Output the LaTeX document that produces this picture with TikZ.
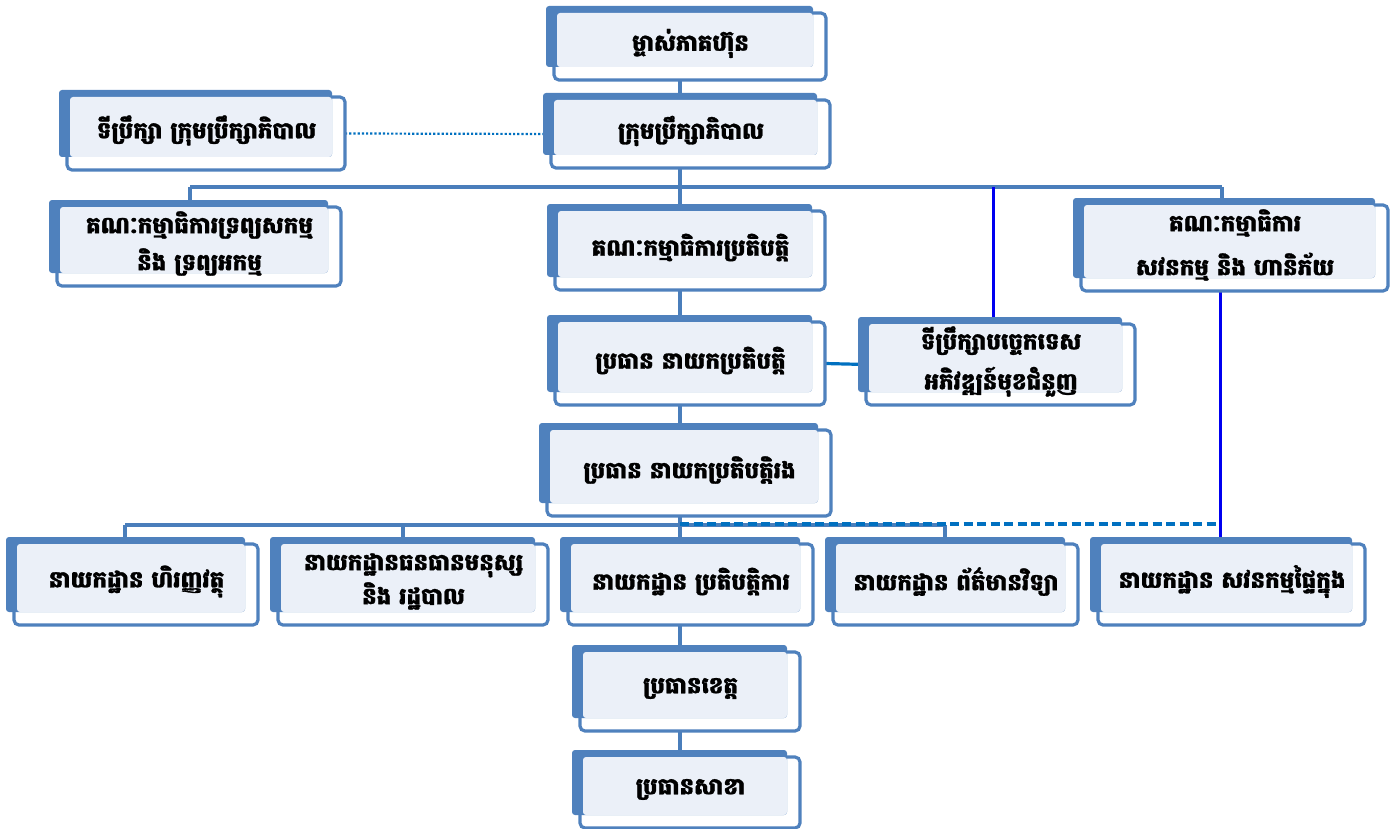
\documentclass[tikz,border=0pt]{standalone}
\usepackage{fontspec}
\newfontfamily\khmer[Script=Khmer, BoldFeatures={FakeBold=1.2}]{Battambang}
\usetikzlibrary{calc}
\pgfdeclarelayer{background}
\pgfsetlayers{background,main}
\definecolor{boxblue}{HTML}{4F81BD}
\definecolor{lightfill}{HTML}{EBF0F8}
\definecolor{connblue}{HTML}{4A7EBB}
\definecolor{linkblue}{HTML}{0070C0}
\definecolor{pureblue}{HTML}{0000F0}
\tikzset{
  outbox/.style={draw=boxblue, line width=3.2pt, fill=white, rounded corners=5pt, inner sep=0pt, outer sep=0pt, anchor=north west},
  txt/.style={font=\khmer\bfseries\fontsize{23}{40}\selectfont, align=center, text=black, inner sep=0pt},
  conn/.style={draw=connblue, line width=3.5pt},
  dotconn/.style={draw=linkblue, line width=2.2pt, dotted},
  linkconn/.style={draw=linkblue, line width=3.2pt},
  blueconn/.style={draw=pureblue, line width=3pt},
  dashconn/.style={draw=linkblue, line width=3.5pt, dash pattern=on 9pt off 4.5pt},
}
% #1 name, #2 x0, #3 y0, #4 x1, #5 y1 (blue back rectangle), #6 text
\newcommand\orgbox[6]{%
  \node[outbox, minimum width={#4-#2+5}, minimum height={#5-#3+6}] (#1) at (#2+8,#3+7) {};
  \fill[boxblue, rounded corners=3pt] (#2,#3) rectangle (#4,#5);
  \fill[lightfill, rounded corners=3pt] (#2+11,#3+7) rectangle (#4,#5);
  \node[txt] (#1-t) at ({(#2+#4)/2+11},{(#3+#5)/2+7}) {#6};
}
\begin{document}
\begin{tikzpicture}[x=1pt,y=-1pt]
\useasboundingbox (0,0) rectangle (1396,829);
\orgbox{A}{546}{6}{813}{67}{ម្ចាស់ភាគហ៊ុន}
\orgbox{B}{59}{90}{332}{157}{ទីប្រឹក្សា ក្រុមប្រឹក្សាភិបាល}
\orgbox{C}{543}{93}{817}{155}{ក្រុមប្រឹក្សាភិបាល}
\orgbox{D}{49}{200}{328}{273}{គណៈកម្មាធិការទ្រព្យសកម្ម\\[-3pt]និង ទ្រព្យអកម្ម}
\orgbox{E}{547}{204}{812}{277}{គណៈកម្មាធិការប្រតិបត្តិ}
\orgbox{F}{1073}{198}{1375}{278}{គណៈកម្មាធិការ\\[4pt]សវនកម្ម និង ហានិភ័យ}
\orgbox{G}{547}{315}{812}{392}{ប្រធាន នាយកប្រតិបត្តិ}
\orgbox{H}{858}{317}{1122}{392}{ទីប្រឹក្សាបច្ចេកទេស\\អភិវឌ្ឍន៍មុខជំនួញ}
\orgbox{I}{539}{423}{818}{503}{ប្រធាន នាយកប្រតិបត្តិរង}
\orgbox{J}{6}{537}{245}{612}{នាយកដ្ឋាន ហិរញ្ញវត្ថុ}
\orgbox{K}{270}{537}{535}{612}{នាយកដ្ឋានធនធានមនុស្ស\\[-6pt]និង រដ្ឋបាល}
\orgbox{L}{560}{537}{800}{612}{នាយកដ្ឋាន ប្រតិបត្តិការ}
\orgbox{M}{825}{537}{1065}{612}{នាយកដ្ឋាន ព័ត៌មានវិទ្យា}
\orgbox{N}{1090}{537}{1352}{612}{នាយកដ្ឋាន សវនកម្មផ្ទៃក្នុង}
\orgbox{O}{572}{645}{787}{718}{ប្រធានខេត្ត}
\orgbox{P}{572}{750}{787}{815}{ប្រធានសាខា}
\coordinate (sp) at (680,0);
\coordinate (busA) at (190,187);
\coordinate (busB) at (1222,187);
\coordinate (hx) at (993,187);
\coordinate (busC) at (125,525);
\coordinate (busD) at (945,525);
\coordinate (kx) at (403,525);
\coordinate (dashR) at (1220,524);
\begin{pgfonlayer}{background}
\draw[conn] (A.south -| sp) -- (C.north -| sp);
\draw[dotconn] (B.east) -- (C.west);
\draw[conn] (C.south -| sp) -- (sp |- busA);
\draw[conn] (busA) -- (busB);
\draw[conn] (busA) -- (D.north -| busA);
\draw[conn] (sp |- busA) -- (E.north -| sp);
\draw[conn] (busB) -- (F.north -| busB);
\draw[blueconn] (hx) -- (H.north -| hx);
\draw[conn] (E.south -| sp) -- (G.north -| sp);
\draw[linkconn] (G.east) -- (H.west);
\draw[conn] (G.south -| sp) -- (I.north -| sp);
\draw[conn] (I.south -| sp) -- (sp |- busC);
\draw[conn] (busC) -- (busD);
\draw[conn] (busC) -- (J.north -| busC);
\draw[conn] (kx) -- (K.north -| kx);
\draw[conn] (sp |- busC) -- (L.north -| sp);
\draw[conn] (busD) -- (M.north -| busD);
\draw[dashconn] (sp |- dashR) -- (dashR);
\draw[blueconn] (F.south -| dashR) -- (N.north -| dashR);
\draw[conn] (L.south -| sp) -- (O.north -| sp);
\draw[conn] (O.south -| sp) -- (P.north -| sp);
\end{pgfonlayer}
\end{tikzpicture}
\end{document}
